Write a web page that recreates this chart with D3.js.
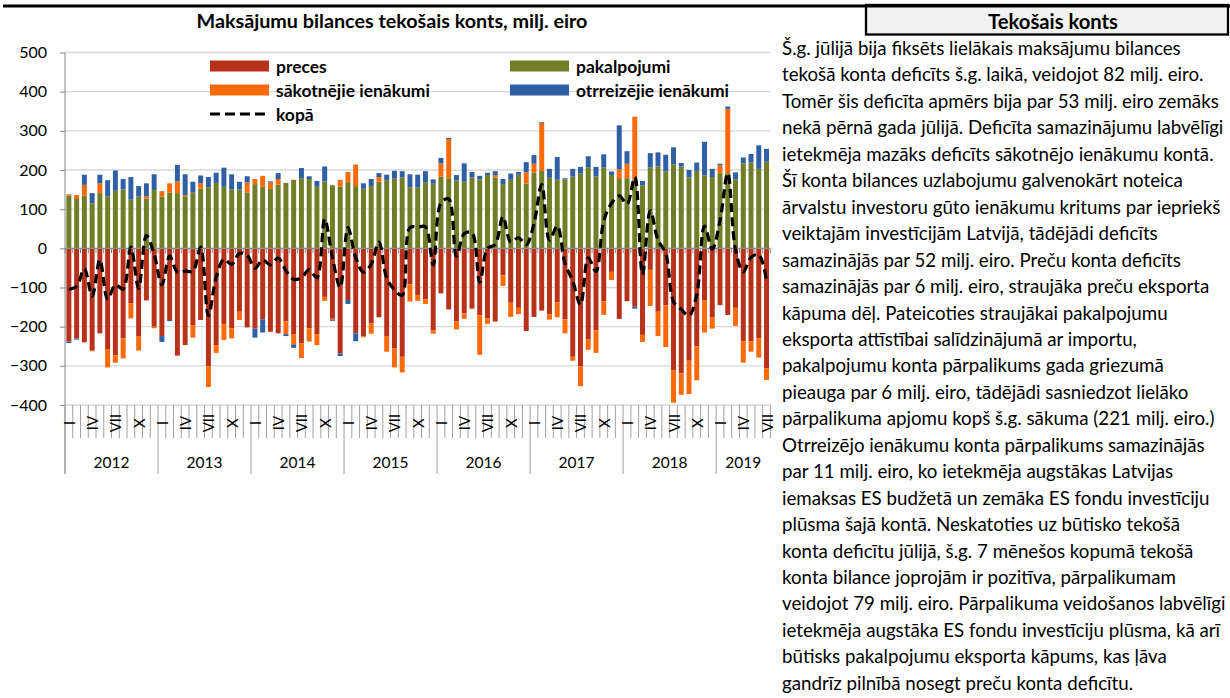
<!DOCTYPE html>
<html><head><meta charset="utf-8">
<script src="https://cdn.jsdelivr.net/npm/d3@7"></script>
<style>
body{margin:0;background:#fff}
svg{display:block}
text{font-family:Lato,'Open Sans',sans-serif;fill:#000}
</style>
</head><body>
<svg id="c" width="1230" height="698"></svg>
<script>
// ---------------- data ----------------
const years = [2012, 2013, 2014, 2015, 2016, 2017, 2018, 2019];
const monthsInYear = [12, 12, 12, 12, 12, 12, 12, 7];
const romanMonths = ["I","II","III","IV","V","VI","VII","VIII","IX","X","XI","XII"];
const shownMonths = ["I","IV","VII","X"];
const yTicks = [500, 400, 300, 200, 100, 0, -100, -200, -300, -400];

const seriesNames = ["preces", "pakalpojumi", "sākotnējie ienākumi", "otrreizējie ienākumi"];
const lineName = "kopā";

const preces = [
 -238,-230,-240,-261,-217,-257,-273,-230,-140,-224,-133,-200,
 -224,-183,-274,-247,-196,-183,-301,-247,-193,-204,-162,-202,
 -205,-181,-213,-217,-187,-219,-243,-204,-219,-124,-180,-268,
 -132,-217,-225,-192,-176,-224,-256,-277,-92,-119,-130,-209,
 -115,-156,-186,-166,-153,-171,-179,-187,-69,-139,-152,-211,
 -175,-159,-168,-138,-181,-277,-301,-233,-209,-135,-60,-180,
 -135,-149,-221,-55,-162,-146,-312,-319,-287,-250,-132,-177,
 -145,-170,-152,-237,-237,-230,-306];
const pakalpojumi = [
 135,126,135,115,141,133,147,150,124,133,127,149,
 132,142,141,133,142,152,156,167,157,150,150,143,
 164,157,152,163,167,175,179,177,157,171,161,158,
 169,159,152,159,170,174,178,181,156,155,169,165,
 183,179,173,170,181,176,187,181,164,175,188,165,
 193,198,180,175,176,183,191,206,184,206,187,177,
 179,175,161,206,209,196,214,209,181,198,186,182,
 192,192,176,217,219,203,221];
const sakotnejie = [
 3,10,27,-2,25,-47,-19,-51,-39,-37,6,-4,
 14,24,30,3,-32,14,-53,-20,-41,-26,-21,25,
 13,28,16,14,-32,-26,-37,-34,-28,-10,-2,17,
 26,55,-2,-26,12,-40,-48,-40,-44,-15,-12,-9,
 34,100,-21,-14,-2,-101,-14,6,-27,-36,-16,29,
 23,122,-14,-38,-36,-10,-51,-26,-58,-35,-21,25,
 37,161,-18,-92,-62,-106,-82,-55,-85,-87,-83,-28,
 20,164,-46,-55,-27,-49,-30];
const otrreizejie = [
 -4,-3,26,26,22,41,52,27,58,26,33,40,
 -15,-3,42,53,28,20,26,26,49,39,20,16,
 -23,-34,3,15,-5,-9,26,7,15,38,-3,-7,
 -10,-20,14,18,10,14,20,16,33,33,28,11,
 14,3,14,47,14,9,6,10,13,16,7,26,
 22,2,23,58,3,20,17,29,24,34,9,112,
 32,-5,11,37,36,43,44,9,19,21,86,21,
 4,6,18,15,22,60,33];
const kopa = [
 -104,-97,-52,-122,-29,-130,-93,-104,3,-102,33,-15,
 -93,-20,-61,-58,-58,3,-172,-74,-28,-41,-13,-18,
 -51,-30,-42,-25,-57,-79,-75,-54,-75,75,-24,-100,
 53,-23,-61,-41,16,-76,-106,-120,53,54,55,-42,
 116,126,-20,37,40,-87,0,10,81,16,27,9,
 63,163,21,57,-38,-84,-144,-24,-59,70,115,134,
 113,182,-67,96,21,-13,-136,-156,-172,-118,57,-2,
 71,192,-4,-60,-23,-16,-82];

const colors = ["#B8321B", "#727D27", "#FA6A0A", "#2F5FA5"];

// categories
const cats = [];
years.forEach((yr, yi) => {
  for (let m = 0; m < monthsInYear[yi]; m++) cats.push({year: yr, month: romanMonths[m], idx: cats.length});
});
const rows = cats.map((c, i) => ({
  idx: i,
  [seriesNames[0]]: preces[i],
  [seriesNames[1]]: pakalpojumi[i],
  [seriesNames[2]]: sakotnejie[i],
  [seriesNames[3]]: otrreizejie[i]
}));

function fit(sel, target) {
  const w = sel.node().getComputedTextLength();
  const fs = parseFloat(sel.attr("font-size"));
  sel.attr("font-size", fs * target / w);
  return fs * target / w;
}

// ---------------- layout ----------------
const svg = d3.select("#c");
const L = 65, R = 770.4, T = 52.5, B = 405;

const x = d3.scaleBand().domain(cats.map(c => c.idx)).range([L, R]).paddingInner(0.36).paddingOuter(0.18);
const step = x.step();
const y = d3.scaleLinear().domain([-400, 500]).range([B, T]);

// top rule and header box
svg.append("rect").attr("x", 866).attr("y", 5).attr("width", 362).attr("height", 29.5)
  .attr("fill", "#f2f2f2").attr("stroke", "#000").attr("stroke-width", 2.3);
svg.append("rect").attr("x", 3).attr("y", 4.5).attr("width", 1227).attr("height", 3).attr("fill", "#000");
const hdr = svg.append("text").attr("x", 1053).attr("y", 21).attr("text-anchor", "middle")
  .attr("dominant-baseline", "central")
  .attr("font-weight", "bold").attr("font-size", 16).text("Tekošais konts");
fit(hdr, 130);

// title
const title = svg.append("text").attr("x", 392).attr("y", 20).attr("text-anchor", "middle")
  .attr("dominant-baseline", "central")
  .attr("font-weight", "bold").attr("font-size", 15).text("Maksājumu bilances tekošais konts, milj. eiro");
fit(title, 391);

// gridlines
svg.append("g").selectAll("line").data(yTicks.filter(v => v !== 0)).join("line")
  .attr("x1", L).attr("x2", R).attr("y1", d => y(d)).attr("y2", d => y(d))
  .attr("stroke", "#d9d9d9").attr("stroke-width", 1.3);

// y axis
const yAxis = svg.append("g").attr("transform", `translate(${L},0)`)
  .call(d3.axisLeft(y).tickValues(yTicks).tickSize(5).tickSizeOuter(0).tickFormat(d3.format("d")));
yAxis.select(".domain").remove();
yAxis.selectAll(".tick line").attr("stroke", "#868686");
yAxis.selectAll(".tick text").attr("font-size", 16).attr("x", -18).attr("fill", "#000")
  .style("font-family", "Lato, sans-serif");
svg.append("line").attr("x1", L).attr("x2", L).attr("y1", T).attr("y2", 474)
  .attr("stroke", "#868686").attr("stroke-width", 1);

// stacked bars
const stack = d3.stack().keys(seriesNames).offset(d3.stackOffsetDiverging);
const layers = stack(rows);
svg.append("g").selectAll("g").data(layers).join("g")
  .attr("fill", (d, i) => colors[i])
  .selectAll("rect").data(d => d).join("rect")
  .attr("x", d => x(d.data.idx))
  .attr("width", x.bandwidth())
  .attr("y", d => y(Math.max(d[0], d[1])))
  .attr("height", d => Math.abs(y(d[0]) - y(d[1])));

// zero line with ticks
svg.append("line").attr("x1", L).attr("x2", R).attr("y1", y(0)).attr("y2", y(0))
  .attr("stroke", "#8c8c8c").attr("stroke-width", 1.3);
svg.append("g").selectAll("line").data(d3.range(cats.length + 1)).join("line")
  .attr("x1", i => L + i * step).attr("x2", i => L + i * step)
  .attr("y1", y(0)).attr("y2", y(0) + 5).attr("stroke", "#8c8c8c").attr("stroke-width", 1);

// category axis (two-level)
const catG = svg.append("g");
catG.selectAll("line").data(d3.range(cats.length + 1)).join("line")
  .attr("x1", i => L + i * step).attr("x2", i => L + i * step)
  .attr("y1", B).attr("y2", i => (i % 12 === 0) ? 474 : 438)
  .attr("stroke", "#a0a0a0").attr("stroke-width", 1);
catG.selectAll("text.m").data(cats.filter(c => shownMonths.includes(c.month))).join("text")
  .attr("class", "m")
  .attr("transform", c => `translate(${x(c.idx) + x.bandwidth() / 2},423) rotate(-90)`)
  .attr("text-anchor", "middle").attr("dominant-baseline", "central")
  .attr("font-size", 15).text(c => c.month);
const yearStart = {};
cats.forEach(c => { if (!(c.year in yearStart)) yearStart[c.year] = c.idx; });
catG.selectAll("text.y").data(years).join("text")
  .attr("class", "y")
  .attr("x", (yr, yi) => L + (yearStart[yr] + monthsInYear[yi] / 2) * step)
  .attr("y", 462).attr("dominant-baseline", "central")
  .attr("text-anchor", "middle").attr("font-size", 15.5).text(d => d);

// total line
const line = d3.line().x((d, i) => x(i) + x.bandwidth() / 2).y(d => y(d))
  .curve(d3.curveCatmullRom.alpha(0.5));
svg.append("path").datum(kopa).attr("d", line).attr("fill", "none")
  .attr("stroke", "#000").attr("stroke-width", 3.2).attr("stroke-dasharray", "9,5");

// legend
const legItems = [
  {name: seriesNames[0], c: colors[0], x: 210, y: 66},
  {name: seriesNames[1], c: colors[1], x: 510, y: 66},
  {name: seriesNames[2], c: colors[2], x: 210, y: 90},
  {name: seriesNames[3], c: colors[3], x: 510, y: 90}
];
const lg = svg.append("g");
legItems.forEach(it => {
  lg.append("rect").attr("x", it.x).attr("y", it.y - 5.5).attr("width", 59).attr("height", 11).attr("fill", it.c);
});
const legTexts = lg.selectAll("text").data(legItems.concat([{name: lineName, x: 210, y: 114}])).join("text")
  .attr("x", d => d.x + 66).attr("y", d => d.y).attr("dominant-baseline", "central")
  .attr("font-weight", "bold").attr("font-size", 15).text(d => d.name);
const lfs = fit(d3.select(legTexts.nodes()[2]), 154);
legTexts.attr("font-size", lfs);
lg.append("line").attr("x1", 210).attr("x2", 270).attr("y1", 114).attr("y2", 114)
  .attr("stroke", "#000").attr("stroke-width", 3.2).attr("stroke-dasharray", "10,5");

// paragraph
const para = [
"Š.g. jūlijā bija fiksēts lielākais maksājumu bilances",
"tekošā konta deficīts š.g. laikā, veidojot 82 milj. eiro.",
"Tomēr šis deficīta apmērs bija par 53 milj. eiro zemāks",
"nekā pērnā gada jūlijā. Deficīta samazinājumu labvēlīgi",
"ietekmēja mazāks deficīts sākotnējo ienākumu kontā.",
"Šī konta bilances uzlabojumu galvenokārt noteica",
"ārvalstu investoru gūto ienākumu kritums par iepriekš",
"veiktajām investīcijām Latvijā, tādējādi deficīts",
"samazinājās par 52 milj. eiro. Preču konta deficīts",
"samazinājās par 6 milj. eiro, straujāka preču eksporta",
"kāpuma dēļ. Pateicoties straujākai pakalpojumu",
"eksporta attīstībai salīdzinājumā ar importu,",
"pakalpojumu konta pārpalikums gada griezumā",
"pieauga par 6 milj. eiro, tādējādi sasniedzot lielāko",
"pārpalikuma apjomu kopš š.g. sākuma (221 milj. eiro.)",
"Otrreizējo ienākumu konta pārpalikums samazinājās",
"par 11 milj. eiro, ko ietekmēja augstākas Latvijas",
"iemaksas ES budžetā un zemāka ES fondu investīciju",
"plūsma šajā kontā. Neskatoties uz būtisko tekošā",
"konta deficītu jūlijā, š.g. 7 mēnešos kopumā tekošā",
"konta bilance joprojām ir pozitīva, pārpalikumam",
"veidojot 79 milj. eiro. Pārpalikuma veidošanos labvēlīgi",
"ietekmēja augstāka ES fondu investīciju plūsma, kā arī",
"būtisks pakalpojumu eksporta kāpums, kas ļāva",
"gandrīz pilnībā nosegt preču konta deficītu."
];
const pt = svg.append("g").selectAll("text").data(para).join("text")
  .attr("x", 782).attr("y", (d, i) => 48 + i * 26.45).attr("dominant-baseline", "central")
  .attr("font-size", 16).text(d => d);
const pfs = fit(d3.select(pt.nodes()[0]), 399);
pt.attr("font-size", pfs);
</script>
</body></html>
